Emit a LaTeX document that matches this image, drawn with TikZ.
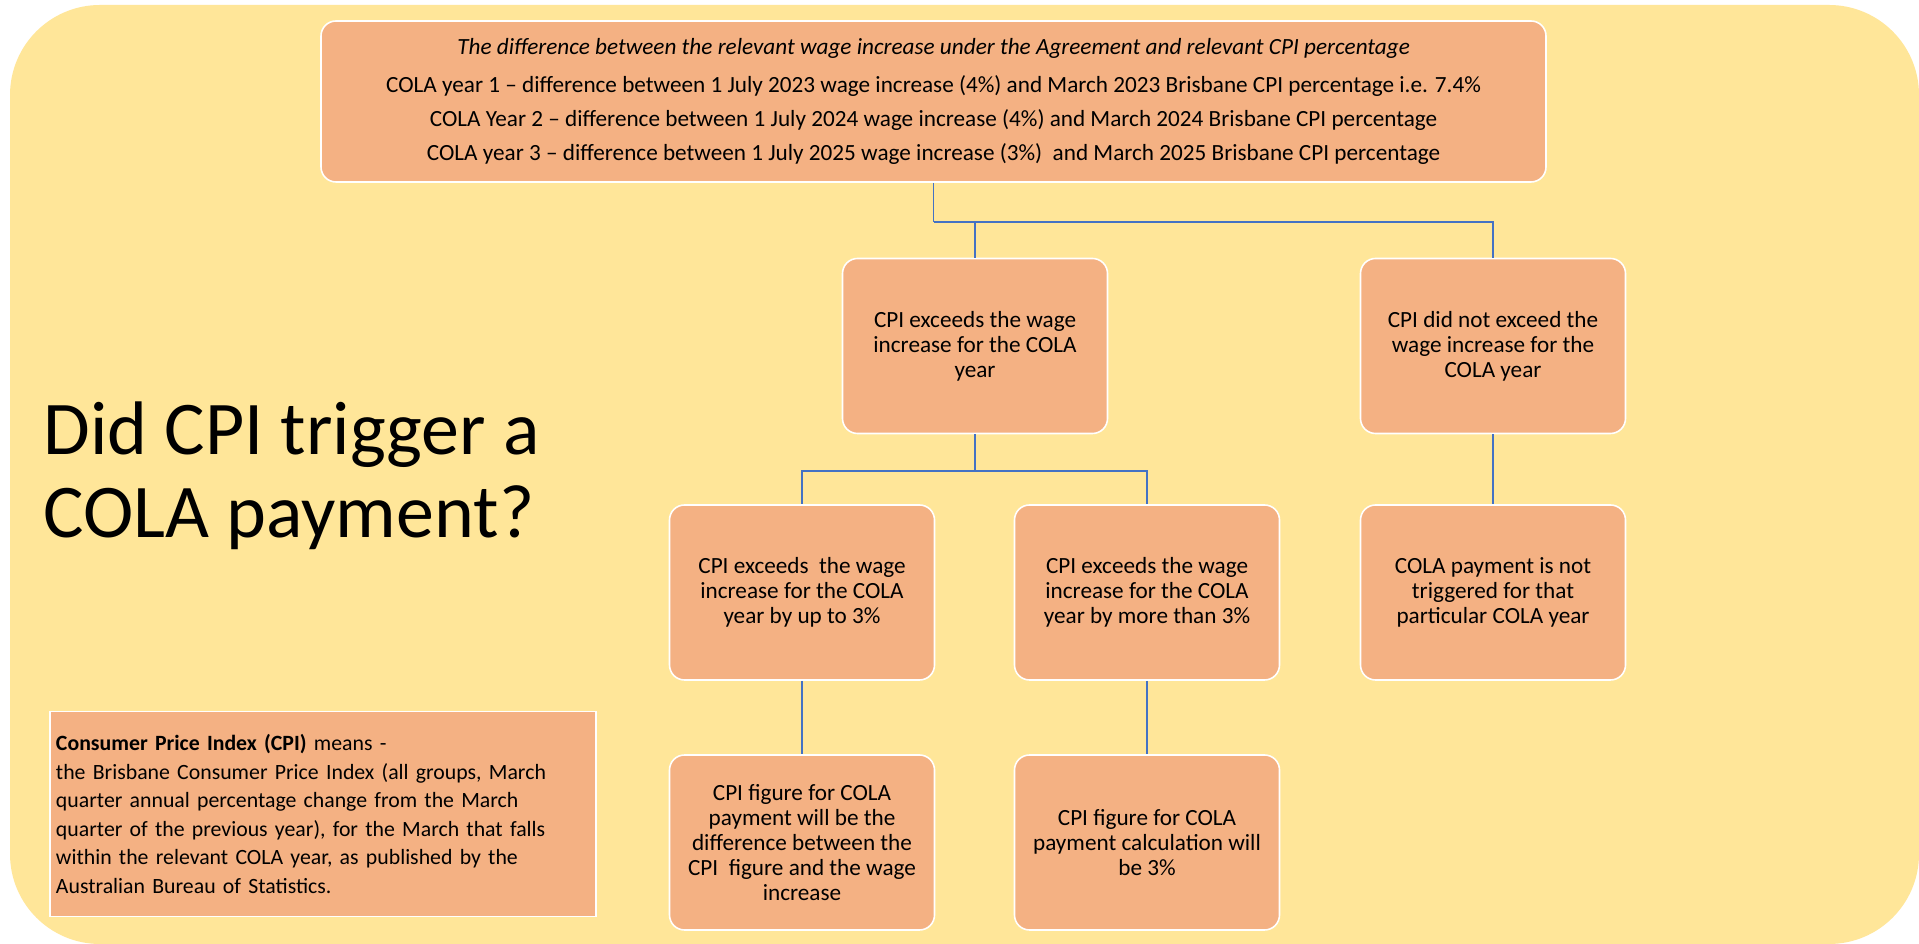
\documentclass[tikz,border=0pt]{standalone}
\usepackage{fontspec}
\setmainfont{Carlito}
\usetikzlibrary{positioning}
\definecolor{bgyellow}{HTML}{FFE699}
\definecolor{boxorange}{HTML}{F4B183}
\definecolor{linkblue}{HTML}{4472C4}

\begin{document}
\begin{tikzpicture}[
    box/.style={draw=white, line width=0.45pt, fill=boxorange, rounded corners=0.15cm,
      minimum width=2.65cm, minimum height=1.75cm, align=center, inner sep=0pt,
      font=\fontsize{6.6}{7.1}\selectfont},
    link/.style={draw=linkblue, line width=0.45pt}
  ]
    \useasboundingbox (0,0) rectangle (19.19,9.44);
    \fill[white] (0,0) rectangle (19.19,9.44);
    \fill[bgyellow, rounded corners=0.9cm] (0.1,0) rectangle (19.19,9.39);

    % top box
    \node[box, minimum width=12.25cm, minimum height=1.61cm] (diff) at (9.335,8.425)
      {{\itshape The difference between the relevant wage increase under the Agreement and relevant CPI percentage}\\[3.7pt]
       COLA year 1 – difference between 1 July 2023 wage increase (4\%) and March 2023 Brisbane CPI percentage i.e. 7.4\%\\[2.5pt]
       COLA Year 2 – difference between 1 July 2024 wage increase (4\%) and March 2024 Brisbane CPI percentage\\[2.5pt]
       COLA year 3 – difference between 1 July 2025 wage increase (3\%) \ and March 2025 Brisbane CPI percentage};

    % second row
    \node[box] (exceed) at (9.75,5.98) {CPI exceeds the wage\\increase for the COLA\\year};
    \node[box] (noexceed) at (14.93,5.98) {CPI did not exceed the\\wage increase for the\\COLA year};

    % third row
    \node[box] (upto) at (8.02,3.515) {CPI exceeds \ the wage\\increase for the COLA\\year by up to 3\%};
    \node[box] (over) at (11.47,3.515) {CPI exceeds the wage\\increase for the COLA\\year by more than 3\%};
    \node[box] (nocola) at (14.93,3.515) {COLA payment is not\\triggered for that\\particular COLA year};

    % bottom row
    \node[box] (diffpay) at (8.02,1.015) {CPI figure for COLA\\payment will be the\\difference between the\\CPI \ figure and the wage\\increase};
    \node[box] (threepay) at (11.47,1.015) {CPI figure for COLA\\payment calculation will\\be 3\%};

    % question and definition
    \node[anchor=west, align=left, inner sep=0pt, font=\fontsize{21.6}{23.6}\selectfont] (question) at (0.43,4.68)
      {Did CPI trigger a\\COLA payment?};
    \node[draw=white, line width=0.45pt, fill=boxorange, minimum width=5.46cm, minimum height=2.05cm,
      text width=5.34cm, align=left, inner sep=0.06cm, font=\fontsize{6.2}{8.1}\selectfont] (cpidef) at (3.23,1.30)
      {\textbf{Consumer Price Index (CPI)} means -\\
       the Brisbane Consumer Price Index (all groups, March\\
       quarter annual percentage change from the March\\
       quarter of the previous year), for the March that falls\\
       within the relevant COLA year, as published by the\\
       Australian Bureau of Statistics.};

    % connectors
    \draw[link] (diff.south) -- ++(0,-0.39) coordinate (split1);
    \draw[link] (split1) -| (exceed.north);
    \draw[link] (split1) -| (noexceed.north);
    \draw[link] (exceed.south) -- ++(0,-0.37) coordinate (split2);
    \draw[link] (split2) -| (upto.north);
    \draw[link] (split2) -| (over.north);
    \draw[link] (noexceed.south) -- (nocola.north);
    \draw[link] (upto.south) -- (diffpay.north);
    \draw[link] (over.south) -- (threepay.north);
\end{tikzpicture}
\end{document}
